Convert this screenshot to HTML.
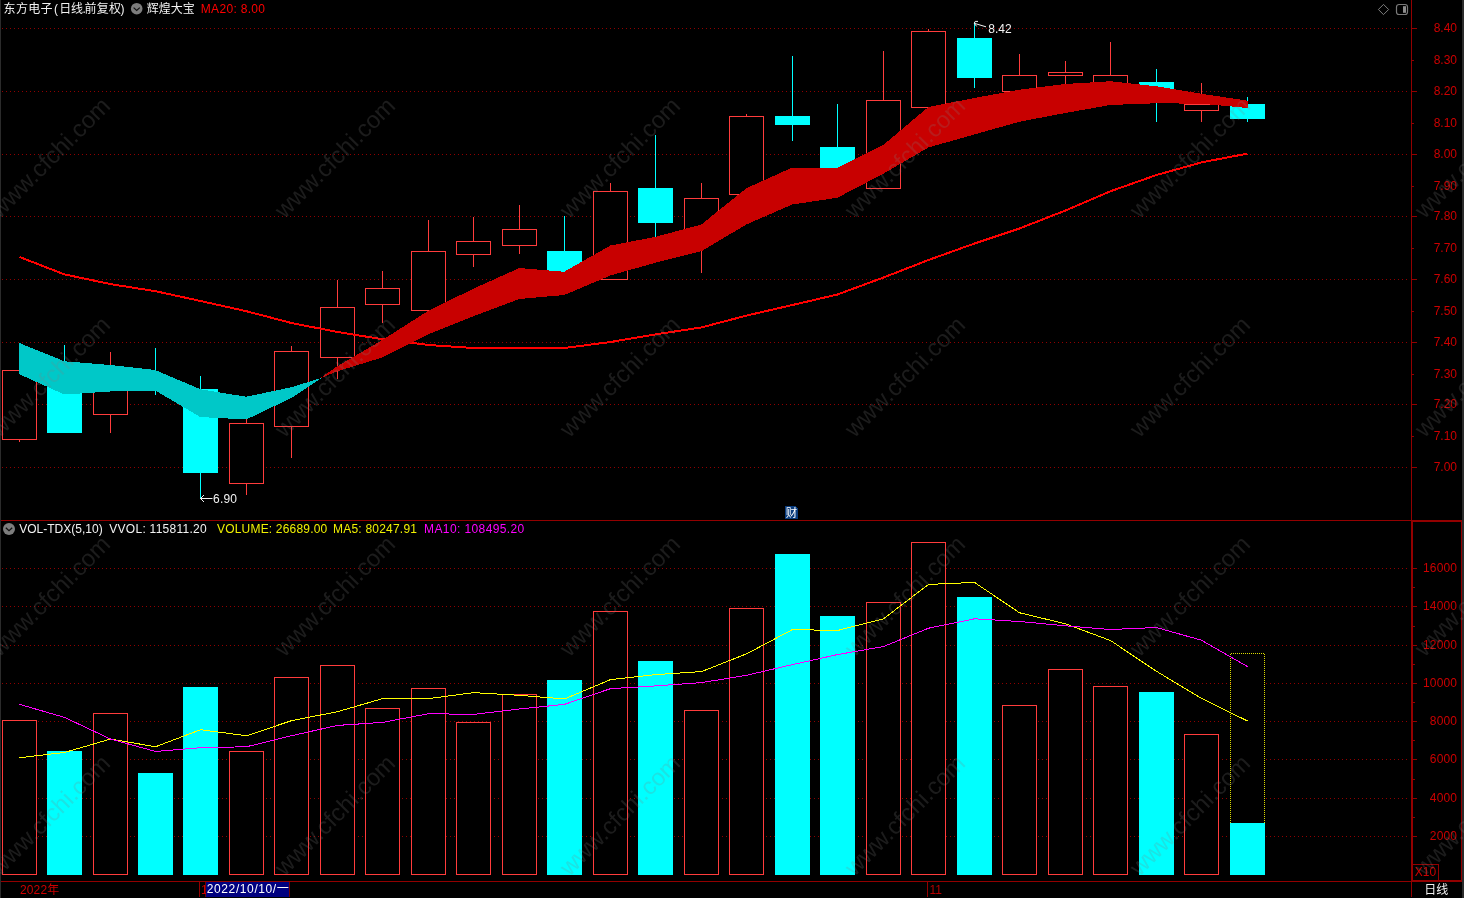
<!DOCTYPE html>
<html lang="zh-CN"><head><meta charset="utf-8"><title>东方电子 日线</title>
<style>html,body{margin:0;padding:0;background:#000;overflow:hidden}svg{display:block}text{font-family:"Liberation Sans", "Noto Sans CJK SC", sans-serif;font-size:12px}.wm{font-size:24px;fill:#808080;fill-opacity:.22}</style></head><body>
<svg width="1464" height="898" viewBox="0 0 1464 898">
<rect width="1464" height="898" fill="#000"/>
<g shape-rendering="crispEdges">
<rect x="0" y="0" width="1" height="898" fill="#2b2b2b"/>
<rect x="1462" y="0" width="2" height="898" fill="#2b2b2b"/>
<g stroke="#900000" stroke-width="1" stroke-dasharray="1 3">
<line x1="2" y1="28.5" x2="1408" y2="28.5"/>
<line x1="2" y1="91.5" x2="1408" y2="91.5"/>
<line x1="2" y1="154.5" x2="1408" y2="154.5"/>
<line x1="2" y1="216.5" x2="1408" y2="216.5"/>
<line x1="2" y1="279.5" x2="1408" y2="279.5"/>
<line x1="2" y1="342.5" x2="1408" y2="342.5"/>
<line x1="2" y1="404.5" x2="1408" y2="404.5"/>
<line x1="2" y1="467.5" x2="1408" y2="467.5"/>
<line x1="2" y1="568.5" x2="1408" y2="568.5"/>
<line x1="2" y1="606.5" x2="1408" y2="606.5"/>
<line x1="2" y1="645.5" x2="1408" y2="645.5"/>
<line x1="2" y1="683.5" x2="1408" y2="683.5"/>
<line x1="2" y1="721.5" x2="1408" y2="721.5"/>
<line x1="2" y1="759.5" x2="1408" y2="759.5"/>
<line x1="2" y1="798.5" x2="1408" y2="798.5"/>
<line x1="2" y1="836.5" x2="1408" y2="836.5"/>
</g>
<g fill="#930000">
<rect x="1411" y="0" width="1" height="897"/>
<rect x="1" y="520" width="1410" height="1"/>
<rect x="1" y="881" width="1410" height="1"/>
<rect x="1412" y="520" width="50" height="2"/>
<rect x="1412" y="520" width="1" height="362"/>
<rect x="1461" y="520" width="1" height="362"/>
<rect x="1412" y="880" width="50" height="2"/>
<rect x="1412" y="864" width="27" height="1"/>
<rect x="1438" y="864" width="1" height="17"/>
<rect x="1412" y="28" width="5" height="1"/>
<rect x="1412" y="60" width="2" height="1"/>
<rect x="1412" y="91" width="5" height="1"/>
<rect x="1412" y="123" width="2" height="1"/>
<rect x="1412" y="154" width="5" height="1"/>
<rect x="1412" y="186" width="2" height="1"/>
<rect x="1412" y="216" width="5" height="1"/>
<rect x="1412" y="248" width="2" height="1"/>
<rect x="1412" y="279" width="5" height="1"/>
<rect x="1412" y="311" width="2" height="1"/>
<rect x="1412" y="342" width="5" height="1"/>
<rect x="1412" y="374" width="2" height="1"/>
<rect x="1412" y="404" width="5" height="1"/>
<rect x="1412" y="436" width="2" height="1"/>
<rect x="1412" y="467" width="5" height="1"/>
<rect x="1413" y="568" width="4" height="1"/>
<rect x="1413" y="606" width="4" height="1"/>
<rect x="1413" y="587" width="2" height="1"/>
<rect x="1413" y="645" width="4" height="1"/>
<rect x="1413" y="626" width="2" height="1"/>
<rect x="1413" y="683" width="4" height="1"/>
<rect x="1413" y="664" width="2" height="1"/>
<rect x="1413" y="721" width="4" height="1"/>
<rect x="1413" y="702" width="2" height="1"/>
<rect x="1413" y="759" width="4" height="1"/>
<rect x="1413" y="740" width="2" height="1"/>
<rect x="1413" y="798" width="4" height="1"/>
<rect x="1413" y="779" width="2" height="1"/>
<rect x="1413" y="836" width="4" height="1"/>
<rect x="1413" y="817" width="2" height="1"/>
<rect x="199" y="881" width="1" height="16"/>
<rect x="927" y="881" width="1" height="16"/>
</g>
<g>
<rect x="2.5" y="370.5" width="34" height="69" fill="#000" stroke="#ff3c3c" stroke-width="1"/>
<rect x="19" y="440" width="1" height="2" fill="#ff3c3c"/>
<rect x="47" y="375" width="35" height="57.5" fill="#00ffff"/>
<rect x="64" y="345" width="1" height="87.5" fill="#00ffff"/>
<rect x="93.5" y="380.5" width="34" height="34" fill="#000" stroke="#ff3c3c" stroke-width="1"/>
<rect x="110" y="352" width="1" height="28" fill="#ff3c3c"/>
<rect x="110" y="415" width="1" height="18" fill="#ff3c3c"/>
<rect x="138" y="379" width="35" height="10" fill="#00ffff"/>
<rect x="155" y="348" width="1" height="46.5" fill="#00ffff"/>
<rect x="183" y="389" width="35" height="83.5" fill="#00ffff"/>
<rect x="200" y="376" width="1" height="123" fill="#00ffff"/>
<rect x="229.5" y="423.5" width="34" height="60" fill="#000" stroke="#ff3c3c" stroke-width="1"/>
<rect x="246" y="419" width="1" height="4" fill="#ff3c3c"/>
<rect x="246" y="484" width="1" height="10.5" fill="#ff3c3c"/>
<rect x="274.5" y="351.5" width="34" height="75" fill="#000" stroke="#ff3c3c" stroke-width="1"/>
<rect x="291" y="346" width="1" height="5" fill="#ff3c3c"/>
<rect x="291" y="427" width="1" height="31" fill="#ff3c3c"/>
<rect x="320.5" y="307.5" width="34" height="50" fill="#000" stroke="#ff3c3c" stroke-width="1"/>
<rect x="337" y="280" width="1" height="27" fill="#ff3c3c"/>
<rect x="337" y="358" width="1" height="21" fill="#ff3c3c"/>
<rect x="365.5" y="288.5" width="34" height="16" fill="#000" stroke="#ff3c3c" stroke-width="1"/>
<rect x="382" y="271" width="1" height="17" fill="#ff3c3c"/>
<rect x="382" y="305" width="1" height="18" fill="#ff3c3c"/>
<rect x="411.5" y="251.5" width="34" height="59" fill="#000" stroke="#ff3c3c" stroke-width="1"/>
<rect x="428" y="220" width="1" height="31" fill="#ff3c3c"/>
<rect x="456.5" y="241.5" width="34" height="13" fill="#000" stroke="#ff3c3c" stroke-width="1"/>
<rect x="473" y="217" width="1" height="24" fill="#ff3c3c"/>
<rect x="473" y="255" width="1" height="12" fill="#ff3c3c"/>
<rect x="502.5" y="229.5" width="34" height="16" fill="#000" stroke="#ff3c3c" stroke-width="1"/>
<rect x="519" y="205" width="1" height="24" fill="#ff3c3c"/>
<rect x="519" y="246" width="1" height="8" fill="#ff3c3c"/>
<rect x="547" y="251" width="35" height="21" fill="#00ffff"/>
<rect x="564" y="216" width="1" height="64" fill="#00ffff"/>
<rect x="593.5" y="191.5" width="34" height="88" fill="#000" stroke="#ff3c3c" stroke-width="1"/>
<rect x="610" y="183" width="1" height="8" fill="#ff3c3c"/>
<rect x="638" y="188" width="35" height="35" fill="#00ffff"/>
<rect x="655" y="135" width="1" height="105" fill="#00ffff"/>
<rect x="684.5" y="198.5" width="34" height="38" fill="#000" stroke="#ff3c3c" stroke-width="1"/>
<rect x="701" y="183" width="1" height="15" fill="#ff3c3c"/>
<rect x="701" y="237" width="1" height="36" fill="#ff3c3c"/>
<rect x="729.5" y="116.5" width="34" height="78" fill="#000" stroke="#ff3c3c" stroke-width="1"/>
<rect x="746" y="114" width="1" height="2" fill="#ff3c3c"/>
<rect x="775" y="116" width="35" height="9" fill="#00ffff"/>
<rect x="792" y="56" width="1" height="85" fill="#00ffff"/>
<rect x="820" y="147" width="35" height="22" fill="#00ffff"/>
<rect x="837" y="104" width="1" height="71" fill="#00ffff"/>
<rect x="866.5" y="100.5" width="34" height="88" fill="#000" stroke="#ff3c3c" stroke-width="1"/>
<rect x="883" y="51" width="1" height="49" fill="#ff3c3c"/>
<rect x="911.5" y="31.5" width="34" height="76" fill="#000" stroke="#ff3c3c" stroke-width="1"/>
<rect x="928" y="29" width="1" height="2" fill="#ff3c3c"/>
<rect x="957" y="38" width="35" height="40" fill="#00ffff"/>
<rect x="974" y="22" width="1" height="65.5" fill="#00ffff"/>
<rect x="1002.5" y="75.5" width="34" height="16" fill="#000" stroke="#ff3c3c" stroke-width="1"/>
<rect x="1019" y="54" width="1" height="21" fill="#ff3c3c"/>
<rect x="1048.5" y="72.5" width="34" height="3" fill="#000" stroke="#ff3c3c" stroke-width="1"/>
<rect x="1065" y="61" width="1" height="11" fill="#ff3c3c"/>
<rect x="1065" y="76" width="1" height="14" fill="#ff3c3c"/>
<rect x="1093.5" y="75.5" width="34" height="11" fill="#000" stroke="#ff3c3c" stroke-width="1"/>
<rect x="1110" y="42" width="1" height="33" fill="#ff3c3c"/>
<rect x="1110" y="87" width="1" height="3" fill="#ff3c3c"/>
<rect x="1139" y="82" width="35" height="7" fill="#00ffff"/>
<rect x="1156" y="69" width="1" height="53" fill="#00ffff"/>
<rect x="1184.5" y="104.5" width="34" height="6" fill="#000" stroke="#ff3c3c" stroke-width="1"/>
<rect x="1201" y="83" width="1" height="21" fill="#ff3c3c"/>
<rect x="1201" y="111" width="1" height="11" fill="#ff3c3c"/>
<rect x="1230" y="104" width="35" height="15" fill="#00ffff"/>
<rect x="1247" y="97" width="1" height="25" fill="#00ffff"/>
</g>
<polyline points="19.5,257 64.5,274.4 110.5,284.1 155.5,291.2 200.5,301 246.5,311.25 291.5,323 337.5,332 382.5,339.25 428.5,345 473.5,348 519.5,348 564.5,348 610.5,342 655.5,334.4 701.5,327.4 746.5,315.6 792.5,305 837.5,294.5 883.5,277.5 928.5,260 974.5,243.5 1019.5,228.5 1065.5,210.5 1110.5,191.25 1156.5,175 1201.5,162.4 1247.5,153.6" fill="none" stroke="#ff0000" stroke-width="2" stroke-linejoin="round"/>
<polygon points="19.3,343 64.3,361.25 110.3,365 155.3,370 200.3,389.25 246.3,396.75 291.3,387.25 321.8,377.8 291.3,398 246.3,419.5 200.3,417 155.3,390.5 110.3,391.5 64.3,394.5 19.3,374.25" fill="#00c8c8"/>
<polygon points="319.4,378.7 337.3,366.25 382.3,340 428.3,310.75 473.3,288.75 519.3,268 564.3,271.75 610.3,245.5 655.3,236.9 701.3,224.5 746.3,188.25 792.3,167.5 837.3,167.75 883.3,145 928.3,107 974.3,98 1019.3,89.75 1065.3,84 1110.3,81.25 1156.3,86.25 1201.3,93.75 1248,100.75 1248,108 1201.3,103.75 1156.3,103.25 1110.3,105 1065.3,113 1019.3,121.75 974.3,134.5 928.3,147.5 883.3,173.75 837.3,197.75 792.3,204.5 746.3,224.5 701.3,251.25 655.3,262.75 610.3,275.5 564.3,295 519.3,299 473.3,316.25 428.3,334.25 382.3,357.5 337.3,371.25" fill="#c80000"/>
<rect x="2.5" y="720.5" width="34" height="154" fill="#000" stroke="#ff3c3c" stroke-width="1"/>
<rect x="47" y="751" width="35" height="124" fill="#00ffff"/>
<rect x="93.5" y="713.5" width="34" height="161" fill="#000" stroke="#ff3c3c" stroke-width="1"/>
<rect x="138" y="773" width="35" height="102" fill="#00ffff"/>
<rect x="183" y="687" width="35" height="188" fill="#00ffff"/>
<rect x="229.5" y="751.5" width="34" height="123" fill="#000" stroke="#ff3c3c" stroke-width="1"/>
<rect x="274.5" y="677.5" width="34" height="197" fill="#000" stroke="#ff3c3c" stroke-width="1"/>
<rect x="320.5" y="665.5" width="34" height="209" fill="#000" stroke="#ff3c3c" stroke-width="1"/>
<rect x="365.5" y="708.5" width="34" height="166" fill="#000" stroke="#ff3c3c" stroke-width="1"/>
<rect x="411.5" y="688.5" width="34" height="186" fill="#000" stroke="#ff3c3c" stroke-width="1"/>
<rect x="456.5" y="722.5" width="34" height="152" fill="#000" stroke="#ff3c3c" stroke-width="1"/>
<rect x="502.5" y="694.5" width="34" height="180" fill="#000" stroke="#ff3c3c" stroke-width="1"/>
<rect x="547" y="680" width="35" height="195" fill="#00ffff"/>
<rect x="593.5" y="611.5" width="34" height="263" fill="#000" stroke="#ff3c3c" stroke-width="1"/>
<rect x="638" y="661" width="35" height="214" fill="#00ffff"/>
<rect x="684.5" y="710.5" width="34" height="164" fill="#000" stroke="#ff3c3c" stroke-width="1"/>
<rect x="729.5" y="608.5" width="34" height="266" fill="#000" stroke="#ff3c3c" stroke-width="1"/>
<rect x="775" y="554" width="35" height="321" fill="#00ffff"/>
<rect x="820" y="616" width="35" height="259" fill="#00ffff"/>
<rect x="866.5" y="602.5" width="34" height="272" fill="#000" stroke="#ff3c3c" stroke-width="1"/>
<rect x="911.5" y="542.5" width="34" height="332" fill="#000" stroke="#ff3c3c" stroke-width="1"/>
<rect x="957" y="597" width="35" height="278" fill="#00ffff"/>
<rect x="1002.5" y="705.5" width="34" height="169" fill="#000" stroke="#ff3c3c" stroke-width="1"/>
<rect x="1048.5" y="669.5" width="34" height="205" fill="#000" stroke="#ff3c3c" stroke-width="1"/>
<rect x="1093.5" y="686.5" width="34" height="188" fill="#000" stroke="#ff3c3c" stroke-width="1"/>
<rect x="1139" y="692" width="35" height="183" fill="#00ffff"/>
<rect x="1184.5" y="734.5" width="34" height="140" fill="#000" stroke="#ff3c3c" stroke-width="1"/>
<rect x="1230" y="823" width="35" height="52" fill="#00ffff"/>
<path d="M1230.5 823V653.5H1264.5V823" fill="#000" stroke="#dcdc00" stroke-width="1" stroke-dasharray="1 1"/>
<polyline points="19.5,757.77 64.5,752.46 110.5,739.04 155.5,746.75 200.5,729.72 246.5,735.73 291.5,720.7 337.5,711.68 382.5,698.66 428.5,698.66 473.5,692.64 519.5,695.35 564.5,698.96 610.5,679.62 655.5,674.61 701.5,671.6 746.5,653.87 792.5,629.52 837.5,630.52 883.5,618.8 928.5,584.43 974.5,582.42 1019.5,612.78 1065.5,623.81 1110.5,640.54 1156.5,671.3 1201.5,698.36 1247.5,721" fill="none" stroke="#ffff00" stroke-width="1"/>
<polyline points="19.5,704.37 64.5,717.39 110.5,739.04 155.5,751.46 200.5,747.75 246.5,746.75 291.5,735.73 337.5,725.41 382.5,722.4 428.5,713.69 473.5,714.39 519.5,708.98 564.5,704.37 610.5,688.64 655.5,685.93 701.5,682.62 746.5,675.31 792.5,664.59 837.5,654.57 883.5,646.55 928.5,628.22 974.5,618.8 1019.5,621.5 1065.5,625.81 1110.5,629.52 1156.5,627.51 1201.5,640.24 1247.5,666.59" fill="none" stroke="#ff00ff" stroke-width="1"/>
<rect x="206" y="882" width="83" height="15" fill="#000080"/>
<rect x="205" y="882" width="1" height="15" fill="#700000"/>
<rect x="289" y="882" width="1" height="15" fill="#700000"/>
<path d="M785 506H795L798 509V519H785Z" fill="#0a3c7d"/>
</g>
<circle cx="136.7" cy="8.7" r="5.8" fill="#7d7d7d"/>
<path d="M133.6 7.6L136.7 10.4L139.8 7.6" fill="none" stroke="#111" stroke-width="1.2"/>
<circle cx="9" cy="529" r="6" fill="#7d7d7d"/>
<path d="M5.8 527.8L9 530.8L12.2 527.8" fill="none" stroke="#111" stroke-width="1.2"/>
<path d="M1383.5 4.4L1388.6 9.5L1383.5 14.6L1378.4 9.5Z" fill="none" stroke="#8c8c8c" stroke-width="0.9"/>
<rect x="1396.5" y="4.5" width="11" height="10" rx="2.5" fill="none" stroke="#7a7a7a" stroke-width="1.2"/>
<rect x="1403" y="6.2" width="3" height="6.6" fill="#8c8c8c"/>
<g stroke="#f2f2f2" stroke-width="1" fill="none">
<path d="M986 26.8L974.3 23.3M978 21.4H975.2L974.3 23.3L976.6 26.4"/>
<path d="M212.5 498.5H200.5M204 495L200.5 498.5L204 502"/>
</g>
<text x="988.3" y="33" fill="#f2f2f2" textLength="23.4">8.42</text>
<text x="213" y="503" fill="#f2f2f2" textLength="24">6.90</text>
<text y="13" fill="#f2f2f2"><tspan x="3.6" textLength="49">东方电子</tspan><tspan x="54">(</tspan><tspan x="59.3" textLength="23.6">日线</tspan><tspan x="82.4">.</tspan><tspan x="84.6" textLength="36.4">前复权</tspan><tspan x="120.6">)</tspan><tspan x="146.7" textLength="48">辉煌大宝</tspan></text>
<text x="200.8" y="13" fill="#ff0000" textLength="64.2">MA20: 8.00</text>
<text y="533" fill="#f2f2f2"><tspan x="19.2" textLength="83.5">VOL-TDX(5,10)</tspan><tspan x="109.3" textLength="97.4">VVOL: 115811.20</tspan></text>
<text y="533" fill="#f0f000"><tspan x="217" textLength="110.3">VOLUME: 26689.00</tspan><tspan x="333" textLength="84">MA5: 80247.91</tspan></text>
<text x="424.1" y="533" fill="#ff00ff" textLength="100.2">MA10: 108495.20</text>
<g fill="#cc0000" text-anchor="end">
<text x="1457" y="32.3">8.40</text>
<text x="1457" y="64.3">8.30</text>
<text x="1457" y="95.3">8.20</text>
<text x="1457" y="127.3">8.10</text>
<text x="1457" y="158.3">8.00</text>
<text x="1457" y="190.3">7.90</text>
<text x="1457" y="220.3">7.80</text>
<text x="1457" y="252.3">7.70</text>
<text x="1457" y="283.3">7.60</text>
<text x="1457" y="315.3">7.50</text>
<text x="1457" y="346.3">7.40</text>
<text x="1457" y="378.3">7.30</text>
<text x="1457" y="408.3">7.20</text>
<text x="1457" y="440.3">7.10</text>
<text x="1457" y="471.3">7.00</text>
<text x="1457" y="572.3" textLength="34">16000</text>
<text x="1457" y="610.3" textLength="34">14000</text>
<text x="1457" y="649.3" textLength="34">12000</text>
<text x="1457" y="687.3" textLength="34">10000</text>
<text x="1457" y="725.3" textLength="27.2">8000</text>
<text x="1457" y="763.3" textLength="27.2">6000</text>
<text x="1457" y="802.3" textLength="27.2">4000</text>
<text x="1457" y="840.3" textLength="27.2">2000</text>
</g>
<text x="1414.8" y="876" fill="#cc0000" textLength="21.4">X10</text>
<text x="1424.2" y="894" fill="#f2f2f2" textLength="24">日线</text>
<text x="20" y="894" fill="#cc0000" textLength="39.2">2022年</text>
<text x="201" y="894" fill="#cc0000">1</text>
<rect x="206" y="882" width="83" height="15" fill="#000080"/>
<text x="206.8" y="893.4" fill="#fff" textLength="82">2022/10/10/一</text>
<text x="929.5" y="894" fill="#b40000">11</text>
<text x="785.7" y="517" fill="#fff" style="font-size:11.5px">财</text>
<g class="wm">
<text class="wm" transform="translate(-0.5 219.5) rotate(-45)">www.cfchi.com</text>
<text class="wm" transform="translate(284.5 219.5) rotate(-45)">www.cfchi.com</text>
<text class="wm" transform="translate(569.5 219.5) rotate(-45)">www.cfchi.com</text>
<text class="wm" transform="translate(854.5 219.5) rotate(-45)">www.cfchi.com</text>
<text class="wm" transform="translate(1139.5 219.5) rotate(-45)">www.cfchi.com</text>
<text class="wm" transform="translate(1424.5 219.5) rotate(-45)">www.cfchi.com</text>
<text class="wm" transform="translate(-0.5 438.5) rotate(-45)">www.cfchi.com</text>
<text class="wm" transform="translate(284.5 438.5) rotate(-45)">www.cfchi.com</text>
<text class="wm" transform="translate(569.5 438.5) rotate(-45)">www.cfchi.com</text>
<text class="wm" transform="translate(854.5 438.5) rotate(-45)">www.cfchi.com</text>
<text class="wm" transform="translate(1139.5 438.5) rotate(-45)">www.cfchi.com</text>
<text class="wm" transform="translate(1424.5 438.5) rotate(-45)">www.cfchi.com</text>
<text class="wm" transform="translate(-0.5 657.8) rotate(-45)">www.cfchi.com</text>
<text class="wm" transform="translate(284.5 657.8) rotate(-45)">www.cfchi.com</text>
<text class="wm" transform="translate(569.5 657.8) rotate(-45)">www.cfchi.com</text>
<text class="wm" transform="translate(854.5 657.8) rotate(-45)">www.cfchi.com</text>
<text class="wm" transform="translate(1139.5 657.8) rotate(-45)">www.cfchi.com</text>
<text class="wm" transform="translate(1424.5 657.8) rotate(-45)">www.cfchi.com</text>
<text class="wm" transform="translate(-0.5 877) rotate(-45)">www.cfchi.com</text>
<text class="wm" transform="translate(284.5 877) rotate(-45)">www.cfchi.com</text>
<text class="wm" transform="translate(569.5 877) rotate(-45)">www.cfchi.com</text>
<text class="wm" transform="translate(854.5 877) rotate(-45)">www.cfchi.com</text>
<text class="wm" transform="translate(1139.5 877) rotate(-45)">www.cfchi.com</text>
<text class="wm" transform="translate(1424.5 877) rotate(-45)">www.cfchi.com</text>
</g>
</svg></body></html>
